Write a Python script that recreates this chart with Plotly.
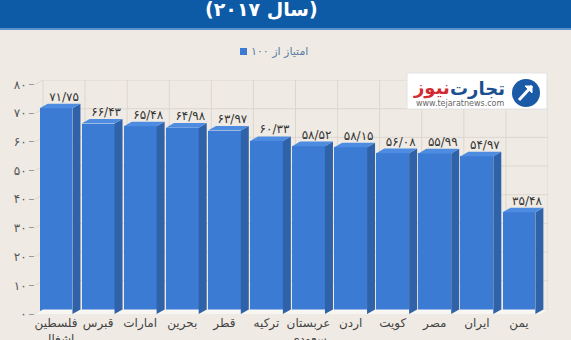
import plotly.graph_objects as go

# ---------------- data ----------------
countries = ["فلسطین<br>اشغالی", "قبرس", "امارات", "بحرین", "قطر", "ترکیه",
             "عربستان<br>سعودی", "اردن", "کویت", "مصر", "ایران", "یمن"]
scores = [71.75, 66.43, 65.48, 64.98, 63.97, 60.33, 58.52, 58.15, 56.08, 55.99, 54.97, 35.48]
y_ticks = [0, 10, 20, 30, 40, 50, 60, 70, 80]
series_name = "امتیاز از ۱۰۰"
title_text = "(سال ۲۰۱۷)"
logo_main = "تجارت"
logo_red = "نیوز"
logo_url = "www.tejaratnews.com"

# ---------------- styling ----------------
FA = str.maketrans("0123456789.", "۰۱۲۳۴۵۶۷۸۹/")
def fa(s):
    return str(s).translate(FA)

FONT = "DejaVu Sans, sans-serif"
BG = "#efebe4"
FRONT = "#3b7bd4"
SIDE = "#2f62a8"
TOP = "#4d8ce0"
GRID = "#dcd7ce"

W, H = 571, 340
ML, MR, MT, MB = 35, 23, 80, 26
BW = 0.78          # bar front width (category units)
DX = 0.19          # depth in x (category units)
DY = 1.6           # depth in y (value units)
n = len(scores)
xr = [-0.5, n - 0.5 + DX]
yr = [0, 80 + DY]

def px(xpix, ypix):
    """pixel -> paper coordinates"""
    pw = W - ML - MR
    ph = H - MT - MB
    return (xpix - ML) / pw, 1 - (ypix - MT) / ph

xs = list(range(n))
fig = go.Figure()

# floor
fig.add_trace(go.Scatter(
    x=[xr[0], n - 0.5, n - 0.5 + DX, xr[0] + DX, xr[0]],
    y=[0, 0, DY, DY, 0], fill="toself", fillcolor="#f7f6f2",
    line=dict(width=0), mode="lines", hoverinfo="skip", showlegend=False))

shapes = []
# back wall gridlines (horizontal)
for t in y_ticks:
    shapes.append(dict(type="line", xref="x", yref="y", x0=xr[0] + DX, x1=xr[1],
                       y0=t + DY, y1=t + DY, line=dict(color=GRID, width=1), layer="below"))
    shapes.append(dict(type="line", xref="x", yref="y", x0=xr[0], x1=xr[0] + DX,
                       y0=t, y1=t + DY, line=dict(color=GRID, width=1), layer="below"))
# back wall gridlines (vertical)
for i in range(-1, n):
    shapes.append(dict(type="line", xref="x", yref="y", x0=i + 0.5 + DX, x1=i + 0.5 + DX,
                       y0=DY, y1=yr[1], line=dict(color=GRID, width=1), layer="below"))

# front faces
fig.add_trace(go.Bar(x=xs, y=scores, width=BW, marker=dict(color=FRONT, line=dict(width=0)),
                     name=series_name, hoverinfo="skip", showlegend=False))

# side faces and top faces
sx, sy, tx, ty = [], [], [], []
for i, v in zip(xs, scores):
    r = i + BW / 2
    l = i - BW / 2
    sx += [r, r + DX, r + DX, r, r, None]
    sy += [0, DY, v + DY, v, 0, None]
    tx += [l, r, r + DX, l + DX, l, None]
    ty += [v, v, v + DY, v + DY, v, None]
fig.add_trace(go.Scatter(x=sx, y=sy, fill="toself", fillcolor=SIDE, line=dict(width=0),
                         mode="lines", hoverinfo="skip", showlegend=False))
fig.add_trace(go.Scatter(x=tx, y=ty, fill="toself", fillcolor=TOP, line=dict(width=0),
                         mode="lines", hoverinfo="skip", showlegend=False))

# value labels
fig.add_trace(go.Scatter(x=[i + DX for i in xs], y=[v + DY for v in scores],
                         mode="text", text=[fa(f"{v:.2f}") for v in scores],
                         textposition="top center",
                         textfont=dict(family=FONT, size=12, color="#333333"),
                         hoverinfo="skip", showlegend=False))

# title banner
x0, y0 = px(0, 0)
x1, y1 = px(W, 28)
shapes.append(dict(type="rect", xref="paper", yref="paper", x0=x0, x1=x1, y0=y1, y1=y0 + 0.2,
                   fillcolor="#0d5aa7", line=dict(width=0)))
x0, y0 = px(0, 28)
x1, y1 = px(W, 30)
shapes.append(dict(type="rect", xref="paper", yref="paper", x0=x0, x1=x1, y0=y1, y1=y0,
                   fillcolor="#5c92cf", line=dict(width=0)))

annotations = []
tx_, ty_ = px(261, 9)
annotations.append(dict(xref="paper", yref="paper", x=tx_, y=ty_, text=f"<b>{title_text}</b>",
                        showarrow=False, font=dict(family=FONT, size=19, color="white"),
                        xanchor="center", yanchor="middle"))

# legend (square + text)
sqx0, sqy0 = px(240, 48)
sqx1, sqy1 = px(247, 55)
shapes.append(dict(type="rect", xref="paper", yref="paper", x0=sqx0, x1=sqx1, y0=sqy1, y1=sqy0,
                   fillcolor=FRONT, line=dict(width=0)))
lgx, lgy = px(249, 51)
annotations.append(dict(xref="paper", yref="paper", x=lgx, y=lgy, text=series_name,
                        showarrow=False, font=dict(family=FONT, size=11, color="#5b7da6"),
                        xanchor="left", yanchor="middle"))

# logo
lx0, ly0 = px(407, 73)
lx1, ly1 = px(547, 109)
shapes.append(dict(type="rect", xref="paper", yref="paper", x0=lx0, x1=lx1, y0=ly1, y1=ly0,
                   fillcolor="white", line=dict(color="#e2e2e2", width=1)))
cx0, cy0 = px(512, 79)
cx1, cy1 = px(540, 107)
shapes.append(dict(type="circle", xref="paper", yref="paper", x0=cx0, x1=cx1, y0=cy1, y1=cy0,
                   fillcolor="#1b5aa6", line=dict(width=0)))
a0x, a0y = px(519, 100)
a1x, a1y = px(532, 86)
shapes.append(dict(type="line", xref="paper", yref="paper", x0=a0x, y0=a0y, x1=a1x, y1=a1y,
                   line=dict(color="white", width=3)))
p1x, p1y = px(525, 86)
p2x, p2y = px(532, 93)
shapes.append(dict(type="path", xref="paper", yref="paper",
                   path=f"M {p1x} {p1y} L {a1x} {a1y} L {p2x} {p2y} Z",
                   fillcolor="white", line=dict(color="white", width=1)))
t1x, t1y = px(507, 88)
annotations.append(dict(xref="paper", yref="paper", x=t1x, y=t1y, text=f"<b>{logo_main}</b>",
                        showarrow=False, font=dict(family=FONT, size=18, color="#1d4f8e"),
                        xanchor="right", yanchor="middle"))
t2x, t2y = px(452, 88)
annotations.append(dict(xref="paper", yref="paper", x=t2x, y=t2y, text=f"<b>{logo_red}</b>",
                        showarrow=False, font=dict(family=FONT, size=18, color="#d22a30"),
                        xanchor="right", yanchor="middle"))
t3x, t3y = px(460, 103)
annotations.append(dict(xref="paper", yref="paper", x=t3x, y=t3y, text=logo_url,
                        showarrow=False, font=dict(family=FONT, size=8, color="#666666"),
                        xanchor="center", yanchor="middle"))

fig.update_layout(
    width=W, height=H,
    margin=dict(l=ML, r=MR, t=MT, b=MB, pad=0),
    paper_bgcolor=BG, plot_bgcolor=BG,
    showlegend=False,
    xaxis=dict(range=xr, tickvals=xs, ticktext=countries, showgrid=False, zeroline=False,
               showline=False, ticks="", tickfont=dict(family=FONT, size=12, color="#444444"),
               fixedrange=True, automargin=False),
    yaxis=dict(range=yr, tickvals=y_ticks, ticktext=[fa(t) for t in y_ticks], showgrid=False,
               zeroline=False, showline=False, ticks="outside", ticklen=5, tickcolor="#999999",
               tickfont=dict(family=FONT, size=12, color="#555555"), fixedrange=True,
               automargin=False),
    shapes=shapes, annotations=annotations,
    font=dict(family=FONT),
    bargap=0,
)
fig.write_html("out.html")
